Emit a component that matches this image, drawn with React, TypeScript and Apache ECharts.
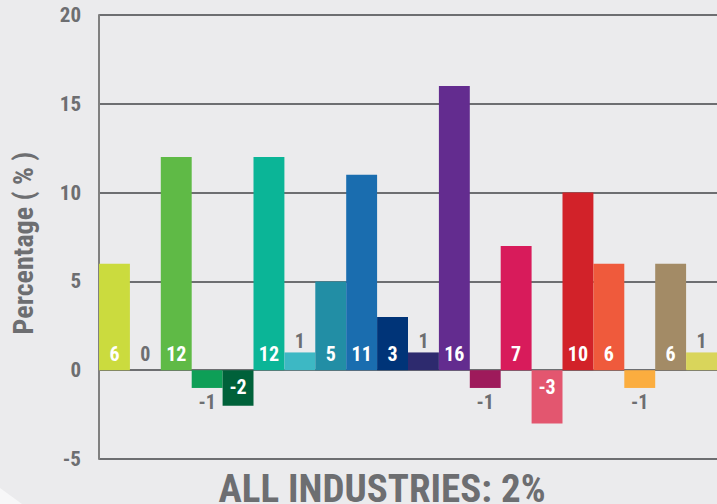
import React, { useEffect, useRef } from "react";
import * as echarts from "echarts";

const categories = [
  "I1", "I2", "I3", "I4", "I5", "I6", "I7", "I8", "I9", "I10",
  "I11", "I12", "I13", "I14", "I15", "I16", "I17", "I18", "I19", "I20",
];
const values = [6, 0, 12, -1, -2, 12, 1, 5, 11, 3, 1, 16, -1, 7, -3, 10, 6, -1, 6, 1];
const barColors = [
  "#cbdb3e", "#9e9e9e", "#5fba46", "#0e9f57", "#00613a",
  "#0bb597", "#3db8c4", "#228ea5", "#1a6daf", "#003478",
  "#2d2a6e", "#632c8f", "#9e1a5b", "#d81b5b", "#e3566f",
  "#d22229", "#ef5a3c", "#fbad3f", "#a38b66", "#d9d55b",
];
const yTicks = { min: -5, max: 20, interval: 5 };
const titleText = "ALL INDUSTRIES: 2%";
const yAxisName = "Percentage ( % )";

const GRAY = "#6d6e71";
const FONT = "'Roboto Condensed', Roboto, sans-serif";

function labelFor(v: number) {
  const base = { show: true, fontSize: 20, fontWeight: "bold" as const, fontFamily: FONT };
  if (v >= 2) return { ...base, position: "insideBottom", distance: 6, color: "#ffffff" };
  if (v === 1) return { ...base, position: "top", distance: 1, color: GRAY };
  if (v === 0) return { ...base, position: "insideBottom", distance: 6, color: GRAY };
  if (v === -1) return { ...base, position: "bottom", distance: 4, color: GRAY };
  return { ...base, position: "insideTop", distance: 7, color: "#ffffff" };
}

export default function App() {
  const ref = useRef<HTMLDivElement>(null);
  useEffect(() => {
    if (!ref.current) return;
    const chart = echarts.init(ref.current, undefined, { renderer: "svg" });
    chart.setOption({
      animation: false,
      backgroundColor: "#ebebed",
      grid: { left: 99, top: 15, width: 620, height: 444, containLabel: false },
      xAxis: {
        type: "category",
        data: categories,
        axisLine: { show: false },
        axisTick: { show: false },
        axisLabel: { show: false },
        splitLine: { show: false },
      },
      yAxis: {
        type: "value",
        min: yTicks.min,
        max: yTicks.max,
        interval: yTicks.interval,
        axisLine: { show: true, lineStyle: { color: "#808080", width: 2 } },
        axisTick: { show: false },
        axisLabel: { color: GRAY, fontSize: 21, fontWeight: "bold", fontFamily: FONT, margin: 18 },
        splitLine: { show: true, lineStyle: { color: GRAY, width: 2 } },
      },
      graphic: [
        {
          type: "polygon",
          shape: { points: [[0, 488], [22, 504], [0, 504]] },
          style: { fill: "#f7f7f8" },
          silent: true,
        },
        {
          type: "text",
          x: 382,
          y: 489,
          style: {
            text: titleText,
            fill: GRAY,
            font: `bold 39px ${FONT}`,
            textAlign: "center",
            textVerticalAlign: "middle",
          },
        },
        {
          type: "text",
          x: 23,
          y: 243,
          rotation: Math.PI / 2,
          style: {
            text: yAxisName,
            fill: GRAY,
            font: `bold 28px ${FONT}`,
            textAlign: "center",
            textVerticalAlign: "middle",
          },
        },
      ],
      series: [
        {
          type: "bar",
          barCategoryGap: "0%",
          data: values.map((v, i) => ({
            value: v,
            itemStyle: { color: barColors[i] },
            label: labelFor(v),
          })),
        },
      ],
    });
    return () => chart.dispose();
  }, []);
  return (
    <div
      ref={ref}
      style={{ position: "fixed", left: 0, top: 0, width: 717, height: 504 }}
    />
  );
}
